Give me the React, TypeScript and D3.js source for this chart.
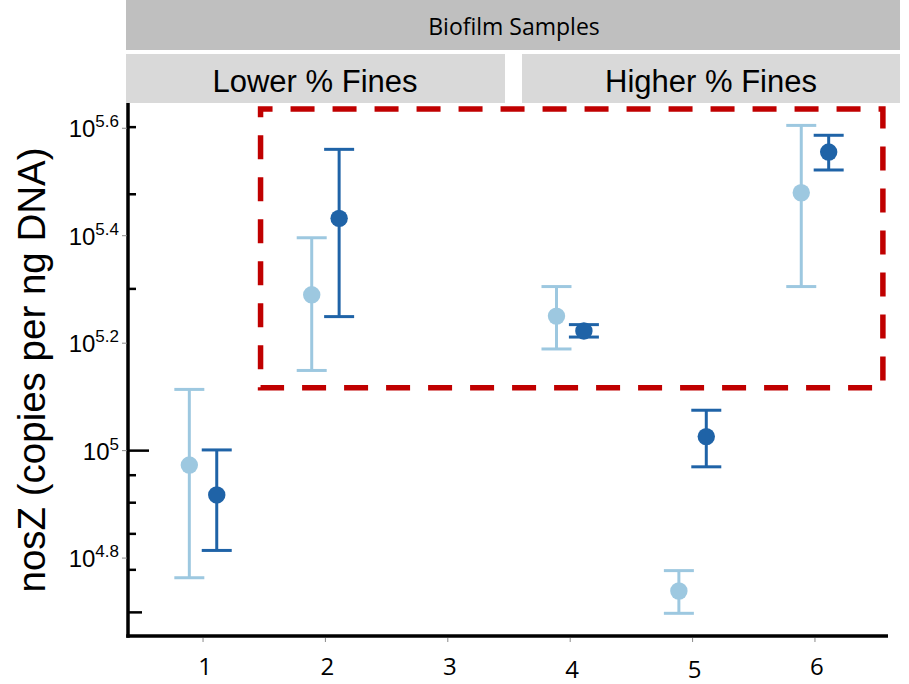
import React from "react";
import * as d3 from "d3";

// ---- data ----
const groups = [1, 2, 3, 4, 5, 6];
const xTickLabels = ["1", "2", "3", "4", "5", "6"];

const lightMean = [94000, 195000, null, 178000, 54800, 302000];
const lightLow = [58000, 141000, null, 154600, 49800, 202000];
const lightHigh = [130000, 249000, null, 202000, 59800, 403000];

const darkMean = [82700, 270600, null, 167000, 106200, 359500];
const darkLow = [65200, 177600, null, 162700, 93300, 332900];
const darkHigh = [100300, 363700, null, 171600, 118900, 386300];

const yLabelExponents = [4.8, 5, 5.2, 5.4, 5.6];
const yLabelTexts = ["4.8", "5", "5.2", "5.4", "5.6"];
const logTicks = [50000, 60000, 70000, 80000, 90000, 100000, 200000, 300000, 400000];

const headerTitle = "Biofilm Samples";
const panelTitles = ["Lower % Fines", "Higher % Fines"];
const yTitle = "nosZ (copies per ng DNA)";

// highlighted region (data coordinates)
const boxX = [1.47, 6.555];
const boxY = [Math.pow(10, 5.117), Math.pow(10, 5.636)];

const LIGHT = "#9dc8e0";
const DARK = "#1f63a7";

export default function App() {
  const W = 909;
  const H = 684;
  const x = d3.scaleLinear().domain([0.4, 6.6]).range([129.6, 888.4]);
  const y = d3.scaleLog().domain([Math.pow(10, 4.655), Math.pow(10, 5.647)]).range([636, 103]);
  const axisLeft = 128;
  const axisBottom = 636;
  const off = 0.112;
  const cap = 15;

  const series = [
    { mean: lightMean, low: lightLow, high: lightHigh, color: LIGHT, dx: -off },
    { mean: darkMean, low: darkLow, high: darkHigh, color: DARK, dx: off },
  ];

  const tickLen = (v: number) => {
    const m = v / Math.pow(10, Math.floor(Math.log10(v) + 1e-9));
    if (Math.abs(m - 1) < 1e-6) return 21;
    if (Math.abs(m - 5) < 1e-6) return 14;
    return 8;
  };

  const bx0 = x(boxX[0]);
  const bx1 = x(boxX[1]);
  const by0 = y(boxY[1]);
  const by1 = y(boxY[0]);

  const labelDy = [0, 0, 0, 3, 3, 0];

  return (
    <svg width={W} height={H} style={{ position: "absolute", left: 0, top: 0 }}>
      <rect x={0} y={0} width={W} height={H} fill="#ffffff" />
      {/* header strips */}
      <rect x={126} y={0} width={774} height={50} fill="#bfbfbf" />
      <text x={514} y={35} textAnchor="middle" fontFamily="'Open Sans', sans-serif" fontSize={23} fill="#000">
        {headerTitle}
      </text>
      <rect x={126} y={54} width={379} height={49} fill="#d9d9d9" />
      <rect x={522} y={54} width={378} height={49} fill="#d9d9d9" />
      <text x={315} y={92} textAnchor="middle" fontFamily="'Liberation Sans', Arial, sans-serif" fontSize={31} fill="#000">
        {panelTitles[0]}
      </text>
      <text x={711} y={92} textAnchor="middle" fontFamily="'Liberation Sans', Arial, sans-serif" fontSize={31} fill="#000">
        {panelTitles[1]}
      </text>

      {/* highlight box */}
      <rect
        x={bx0}
        y={by0}
        width={bx1 - bx0}
        height={by1 - by0}
        fill="none"
        stroke="#c00000"
        strokeWidth={5.5}
        strokeDasharray="24,18"
        strokeDashoffset={12}
      />

      {/* error bars and points */}
      {series.map((s, si) =>
        groups.map((g, i) => {
          const m = s.mean[i];
          if (m == null) return null;
          const cx = x(g + s.dx);
          const yl = y(s.low[i] as number);
          const yh = y(s.high[i] as number);
          return (
            <g key={`${si}-${i}`}>
              <line x1={cx} x2={cx} y1={yh} y2={yl} stroke={s.color} strokeWidth={3} />
              <line x1={cx - cap} x2={cx + cap} y1={yh} y2={yh} stroke={s.color} strokeWidth={3} />
              <line x1={cx - cap} x2={cx + cap} y1={yl} y2={yl} stroke={s.color} strokeWidth={3} />
              <circle cx={cx} cy={y(m)} r={8.7} fill={s.color} />
            </g>
          );
        })
      )}

      {/* y axis */}
      <line x1={axisLeft} x2={axisLeft} y1={103} y2={axisBottom + 1.75} stroke="#000" strokeWidth={3.5} />
      {logTicks.map((v) => (
        <line key={v} x1={axisLeft} x2={axisLeft + tickLen(v)} y1={y(v)} y2={y(v)} stroke="#000" strokeWidth={2.5} />
      ))}
      {yLabelExponents.map((e, i) => {
        const yy = y(Math.pow(10, e));
        return (
          <g key={e}>
            <line x1={122} x2={127} y1={yy} y2={yy} stroke="#8a8a8a" strokeWidth={1} />
            <text
              x={119}
              y={yy + 9}
              textAnchor="end"
              fontFamily="'Liberation Sans', Arial, sans-serif"
              fontSize={24}
              fill="#000"
            >
              10
              <tspan dy={-10} fontSize={17}>
                {yLabelTexts[i]}
              </tspan>
            </text>
          </g>
        );
      })}
      <text
        transform={`translate(45,370) rotate(-90)`}
        textAnchor="middle"
        fontFamily="'Liberation Sans', Arial, sans-serif"
        fontSize={38.5}
        fill="#000"
      >
        {yTitle}
      </text>

      {/* x axis */}
      <line x1={axisLeft - 1.75} x2={888} y1={axisBottom} y2={axisBottom} stroke="#000" strokeWidth={3.5} />
      {groups.map((g, i) => (
        <g key={g}>
          <line x1={x(g)} x2={x(g)} y1={axisBottom + 2} y2={axisBottom + 6} stroke="#8a8a8a" strokeWidth={1} />
          <text
            x={x(g) + 2}
            y={675 + labelDy[i]}
            textAnchor="middle"
            fontFamily="'Open Sans', sans-serif"
            fontSize={24}
            fill="#000"
          >
            {xTickLabels[i]}
          </text>
        </g>
      ))}
    </svg>
  );
}
